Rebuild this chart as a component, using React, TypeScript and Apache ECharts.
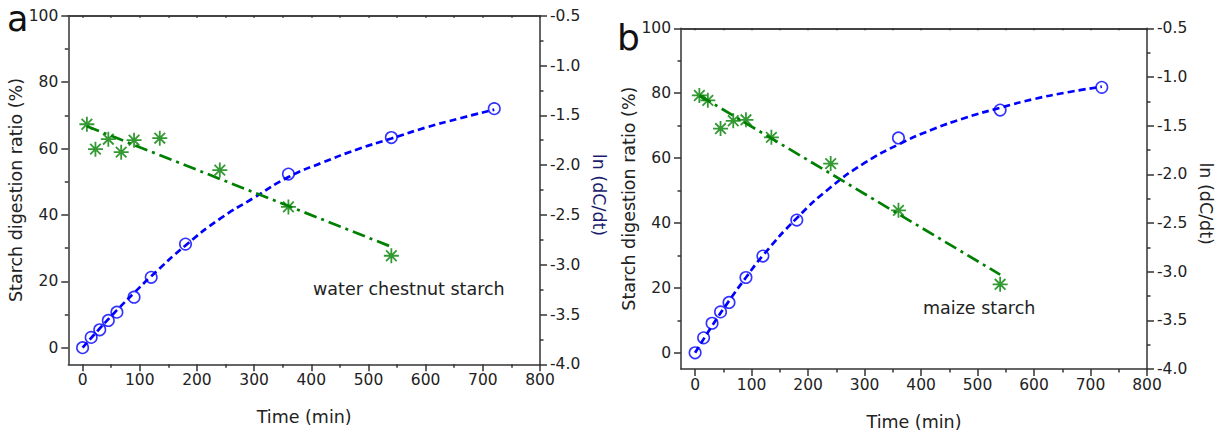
import React, { useEffect, useRef } from "react";
import * as echarts from "echarts";

// ---------- data ----------
const circleTimes = [0, 15, 30, 45, 60, 90, 120, 180, 360, 540, 720];
const ratioA = [0, 3.1, 5.4, 8.2, 10.7, 15.2, 21.2, 31.2, 52.3, 63.3, 72.0];
const ratioB = [0, 4.6, 9.1, 12.6, 15.5, 23.2, 29.8, 40.9, 66.2, 74.8, 81.8];

const starTimes = [7.5, 22.5, 45, 67.5, 90, 135, 240, 360, 540];
const lnA = [-1.59, -1.84, -1.74, -1.87, -1.75, -1.73, -2.05, -2.42, -2.91];
const lnB = [-1.19, -1.24, -1.53, -1.45, -1.44, -1.62, -1.89, -2.37, -3.13];

const fitTimes = [0, 30, 60, 90, 120, 180, 240, 300, 360, 420, 480, 540, 600, 660, 720];
const fitRatioA = [0, 5.8, 11.3, 16.5, 21.5, 30.8, 38.8, 45.2, 51.4, 55.8, 59.7, 63.0, 66.3, 69.1, 71.7];
const fitRatioB = [0, 8.3, 16.0, 23.2, 30.0, 41.5, 51.0, 58.5, 64.2, 68.8, 72.5, 75.5, 78.2, 80.3, 82.0];

const lnFitTimes = [7.5, 540];
const lnFitA = [-1.61, -2.82];
const lnFitB = [-1.19, -3.03];

const xTicks = [0, 100, 200, 300, 400, 500, 600, 700, 800];
const xMinorTicks = [50, 150, 250, 350, 450, 550, 650, 750];
const xTopTicks = [0, 50, 100, 150, 200, 250, 300, 350, 400, 450, 500, 550, 600, 650, 700, 750, 800];
const yTicks = [0, 20, 40, 60, 80, 100];
const yMinorTicks = [10, 30, 50, 70, 90];

const panelLetters = ["a", "b"];
const panelNotes = ["water chestnut starch", "maize starch"];

const xTitle = "Time (min)";
const yLeftTitle = "Starch digestion ratio (%)";
const yRightTitle = "ln (dC/dt)";

// ---------- styling ----------
const FONT = "DejaVu Sans";
const AXIS_COLOR = "#333";
const TEXT_COLOR = "#222";
const BLUE = "#0000ff";
const GREEN = "#008000";
const STAR = "path://M10,0L10,20M0,10L20,10M2.93,2.93L17.07,17.07M2.93,17.07L17.07,2.93";

const grids = [
  { left: 68.3, top: 15.7, width: 471.7, height: 348.6 },
  { left: 681, top: 28.3, width: 466, height: 340.7 },
];
const rightTitleColors = ["#1c1c6e", TEXT_COLOR];

const pair = (xs: number[], ys: number[]) => xs.map((x, i) => [x, ys[i]]);

function buildOption() {
  const lineStyle = { color: AXIS_COLOR, width: 1.5 };
  const labelStyle = { fontFamily: FONT, fontSize: 15.5, color: TEXT_COLOR };
  const nameStyle = { fontFamily: FONT, fontSize: 17.5, color: TEXT_COLOR };
  const xAxis: any[] = [];
  const yAxis: any[] = [];
  const series: any[] = [];
  const ratios = [ratioA, ratioB];
  const lns = [lnA, lnB];
  const fitRatios = [fitRatioA, fitRatioB];
  const lnFits = [lnFitA, lnFitB];

  grids.forEach((_, p) => {
    xAxis.push(
      {
        type: "value", gridIndex: p, position: "bottom", min: -25, max: 800,
        axisLine: { show: true, onZero: false, lineStyle },
        axisTick: { show: true, customValues: xTicks, length: 7, lineStyle },
        axisLabel: { show: true, customValues: xTicks, margin: 8, ...labelStyle },
        splitLine: { show: false },
        name: xTitle, nameLocation: "middle", nameGap: 44, nameTextStyle: nameStyle,
      },
      {
        type: "value", gridIndex: p, position: "bottom", min: -25, max: 800,
        axisLine: { show: false, onZero: false },
        axisTick: { show: true, customValues: xMinorTicks, length: 3.5, lineStyle },
        axisLabel: { show: false },
        splitLine: { show: false },
      },
      {
        type: "value", gridIndex: p, position: "top", min: -25, max: 800,
        axisLine: { show: true, onZero: false, lineStyle: { color: "#444", width: 1.8 } },
        axisTick: { show: true, inside: true, customValues: xTopTicks, length: 2, lineStyle },
        axisLabel: { show: false },
        splitLine: { show: false },
      }
    );
    yAxis.push(
      {
        type: "value", gridIndex: p, position: "left", min: -5, max: 100,
        axisLine: { show: true, onZero: false, lineStyle },
        axisTick: { show: true, customValues: yTicks, length: 7, lineStyle },
        axisLabel: { show: true, customValues: yTicks, margin: 10, ...labelStyle },
        splitLine: { show: false },
        name: yLeftTitle, nameLocation: "middle", nameRotate: 90, nameGap: 42,
        nameTextStyle: nameStyle,
      },
      {
        type: "value", gridIndex: p, position: "left", min: -5, max: 100,
        axisLine: { show: false, onZero: false },
        axisTick: { show: true, customValues: yMinorTicks, length: 3.5, lineStyle },
        axisLabel: { show: false },
        splitLine: { show: false },
      },
      {
        type: "value", gridIndex: p, position: "right", min: -4, max: -0.5, interval: 0.5,
        axisLine: { show: true, onZero: false, lineStyle },
        axisTick: { show: true, length: 7, lineStyle },
        minorTick: { show: true, splitNumber: 2, length: 3.5, lineStyle },
        axisLabel: {
          show: true, margin: 10, ...labelStyle,
          formatter: (v: number) => v.toFixed(1),
        },
        splitLine: { show: false },
        minorSplitLine: { show: false },
        name: yRightTitle, nameLocation: "middle", nameRotate: -90, nameGap: 50,
        nameTextStyle: { ...nameStyle, color: rightTitleColors[p], padding: [0, 0, 0, 10] },
      }
    );

    const xi = p * 3;
    const yl = p * 3;
    const yr = p * 3 + 2;
    series.push(
      {
        type: "line", name: `fit ratio ${panelLetters[p]}`, xAxisIndex: xi, yAxisIndex: yl,
        data: pair(fitTimes, fitRatios[p]), smooth: true, showSymbol: false, symbol: "none",
        lineStyle: { color: BLUE, width: 2.7, type: [7, 4] }, z: 2,
      },
      {
        type: "line", name: `fit ln ${panelLetters[p]}`, xAxisIndex: xi, yAxisIndex: yr,
        data: pair(lnFitTimes, lnFits[p]), showSymbol: false, symbol: "none",
        lineStyle: { color: GREEN, width: 2.7, type: [13, 5, 3, 5] }, z: 2,
      },
      {
        type: "scatter", name: `ratio ${panelLetters[p]}`, xAxisIndex: xi, yAxisIndex: yl,
        data: pair(circleTimes, ratios[p]), symbol: "circle", symbolSize: 11.5,
        itemStyle: { color: "rgba(0,0,0,0)", borderColor: BLUE, borderWidth: 1.6 }, z: 3,
      },
      {
        type: "scatter", name: `ln ${panelLetters[p]}`, xAxisIndex: xi, yAxisIndex: yr,
        data: pair(starTimes, lns[p]), symbol: STAR, symbolSize: 15,
        itemStyle: { color: "rgba(0,0,0,0)", borderColor: GREEN, borderWidth: 1.8 }, z: 3,
      }
    );
  });

  const graphic: any[] = [
    { type: "text", x: 7, y: 19, style: { text: panelLetters[0], fontFamily: FONT, fontSize: 35, fill: "#111", textVerticalAlign: "middle" } },
    { type: "text", x: 617, y: 37, style: { text: panelLetters[1], fontFamily: FONT, fontSize: 36, fill: "#111", textVerticalAlign: "middle" } },
    { type: "text", x: 313, y: 289, style: { text: panelNotes[0], fontFamily: FONT, fontSize: 17.5, fill: TEXT_COLOR, textVerticalAlign: "middle" } },
    { type: "text", x: 923, y: 307.5, style: { text: panelNotes[1], fontFamily: FONT, fontSize: 17.5, fill: TEXT_COLOR, textVerticalAlign: "middle" } },
  ];

  return {
    animation: false,
    backgroundColor: "#fff",
    grid: grids.map((g) => ({ ...g, containLabel: false })),
    xAxis,
    yAxis,
    series,
    graphic,
  };
}

export default function App() {
  const ref = useRef<HTMLDivElement>(null);
  useEffect(() => {
    if (!ref.current) return;
    const chart = echarts.init(ref.current, undefined, { renderer: "svg" });
    chart.setOption(buildOption());
    return () => chart.dispose();
  }, []);
  return (
    <div
      ref={ref}
      style={{ position: "fixed", left: 0, top: 0, width: 1225, height: 437, background: "#fff" }}
    />
  );
}
